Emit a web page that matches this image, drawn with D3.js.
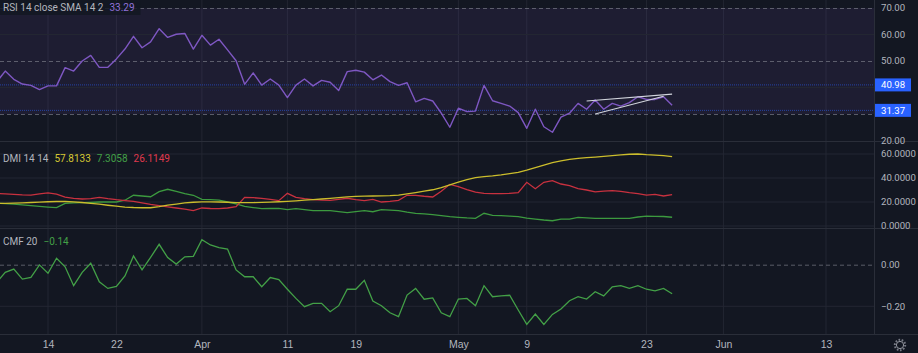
<!DOCTYPE html>
<html lang="en">
<head>
  <meta charset="UTF-8">
  <title>RSI / DMI / CMF</title>
  <script src="https://d3js.org/d3.v7.min.js"></script>
  <style>
    body { margin: 0; background: #131722; }
    svg { display: block; font-family: Roboto, "Noto Sans", sans-serif; }
    .ylab { fill: #b2b5be; font-size: 9.6px; }
    .xaxis text { fill: #b2b5be; font-size: 10.5px; }
    .legend { font-size: 10px; }
  </style>
</head>
<body>
  <div id="chart"></div>

  <script>
    // daily values, first day 2022-03-08, last day 2022-05-26
    const startDay = "2022-03-08";

    const rsi = [42.1, 46.2, 43.1, 41.3, 40.8, 39.2, 40.6, 40.6, 47.5, 46.2,
                 50.0, 52.1, 47.6, 47.6, 50.8, 54.5, 59.3, 55.0, 57.2, 62.2,
                 58.9, 60.1, 60.4, 54.5, 59.7, 56.0, 58.2, 54.2, 50.1, 41.2,
                 45.5, 40.9, 43.2, 40.9, 36.2, 40.9, 43.2, 40.6, 42.7, 42.0,
                 38.9, 46.0, 46.5, 45.8, 42.9, 44.7, 42.2, 40.8, 41.8, 34.6,
                 35.9, 34.9, 30.3, 25.0, 32.2, 30.9, 31.1, 40.8, 35.0, 34.0,
                 33.0, 30.5, 24.6, 31.8, 25.2, 23.1, 28.8, 30.3, 34.0, 31.8,
                 35.3, 31.8, 34.0, 33.0, 34.3, 36.5, 35.5, 35.5, 36.5, 33.29];

    const adx = [18.8, 18.9, 19.1, 19.3, 19.6, 19.9, 20.2, 20.4, 20.4, 20.1,
                 19.6, 18.9, 18.2, 17.3, 16.5, 15.8, 15.4, 15.2, 15.2, 16.2,
                 17.4, 18.3, 19.2, 19.8, 20.1, 20.1, 20.0, 19.8, 19.5, 19.4,
                 19.5, 19.7, 19.9, 20.2, 20.6, 21.0, 21.5, 22.0, 22.5, 23.1,
                 23.7, 24.3, 24.7, 24.9, 25.0, 25.1, 25.3, 25.8, 26.8, 27.9,
                 29.0, 30.2, 31.9, 34.2, 36.6, 38.6, 40.4, 41.2, 41.7, 42.6,
                 43.7, 44.7, 46.5, 48.6, 50.8, 52.8, 54.3, 55.5, 56.3, 56.9,
                 57.4, 58.0, 58.6, 59.2, 59.8, 60.0, 59.4, 59.0, 58.6, 57.8133];

    const plusDI = [18.9, 18.6, 18.3, 17.6, 16.9, 16.3, 15.8, 15.3, 18.9, 19.2,
                    19.4, 19.7, 20.0, 20.0, 20.0, 21.5, 25.6, 25.0, 24.4, 28.6,
                    30.6, 28.8, 27.0, 25.6, 22.2, 22.0, 21.5, 20.0, 18.5, 16.4,
                    15.4, 14.4, 14.6, 14.7, 13.6, 14.4, 13.6, 12.8, 12.8, 12.8,
                    12.0, 11.1, 12.0, 12.8, 11.9, 13.6, 13.2, 12.8, 11.5, 10.6,
                    10.1, 9.4, 8.6, 7.8, 7.2, 6.7, 6.4, 10.6, 8.9, 8.6,
                    8.2, 7.8, 6.5, 5.8, 5.0, 4.4, 5.8, 5.8, 7.2, 6.8,
                    6.4, 6.4, 6.4, 6.4, 6.4, 7.5, 8.3, 8.1, 7.9, 7.3058];

    const minusDI = [27.2, 26.8, 26.4, 25.9, 25.7, 26.8, 27.6, 26.5, 24.0, 23.0,
                     22.5, 22.8, 23.9, 22.8, 21.9, 21.2, 20.6, 19.3, 18.0, 17.0,
                     16.0, 15.0, 14.0, 12.8, 15.0, 14.6, 14.4, 15.0, 16.1, 23.9,
                     23.6, 23.1, 22.2, 21.1, 27.2, 23.9, 22.8, 21.9, 21.6, 21.4,
                     22.2, 23.1, 22.0, 21.1, 22.2, 20.0, 20.6, 21.4, 25.6, 25.6,
                     24.8, 24.2, 29.0, 34.7, 32.8, 30.3, 28.2, 27.2, 27.0, 27.0,
                     27.2, 27.8, 36.4, 31.1, 36.4, 37.8, 35.0, 33.6, 31.2, 30.0,
                     28.4, 29.0, 29.4, 28.8, 27.8, 27.0, 25.8, 26.4, 25.0, 26.1149];

    const cmf = [-0.084, -0.037, -0.021, -0.069, -0.061, -0.001, -0.041, 0.031, -0.010, -0.101,
                 -0.037, 0.007, -0.082, -0.114, -0.104, -0.054, 0.042, -0.025, 0.035, 0.098,
                 0.034, 0.003, 0.038, 0.040, 0.120, 0.095, 0.082, 0.075, -0.025, -0.058,
                 -0.058, -0.106, -0.062, -0.072, -0.118, -0.162, -0.202, -0.186, -0.186, -0.226,
                 -0.197, -0.118, -0.118, -0.075, -0.175, -0.197, -0.231, -0.250, -0.146, -0.114,
                 -0.166, -0.160, -0.231, -0.250, -0.165, -0.162, -0.197, -0.101, -0.154, -0.150,
                 -0.147, -0.218, -0.287, -0.237, -0.287, -0.239, -0.213, -0.173, -0.154, -0.165,
                 -0.130, -0.150, -0.106, -0.101, -0.114, -0.101, -0.118, -0.126, -0.114, -0.140];

    const tickDates = ["2022-03-14", "2022-03-22", "2022-04-01", "2022-04-11", "2022-04-19",
                       "2022-05-01", "2022-05-09", "2022-05-23", "2022-06-01", "2022-06-13"];
    const tickLabels = ["14", "22", "Apr", "11", "19", "May", "9", "23", "Jun", "13"];

    const rsiTicks = [70, 60, 50, 20];
    const rsiGrid = [60, 40];
    const rsiBands = [70, 50, 30];
    const rsiMarks = [40.98, 31.37];
    const dmiTicks = [60, 40, 20, 0];
    const cmfTicks = [0, -0.2];

    // hand drawn wedge on the RSI
    const wedgeUpper = [["2022-05-16", 34.9], ["2022-05-26", 37.5]];
    const wedgeLower = [["2022-05-17", 30.0], ["2022-05-25", 36.7]];

    const bg = "#131722";
    const gridColor = "#232632";
    const W = 918, H = 353, plotR = 874;

    const parse = d3.utcParse("%Y-%m-%d");
    const day0 = parse(startDay);
    const rows = rsi.map((v, i) => ({
      date: d3.utcDay.offset(day0, i),
      rsi: v, adx: adx[i], plus: plusDI[i], minus: minusDI[i], cmf: cmf[i]
    }));

    const x = d3.scaleUtc()
      .domain([parse("2022-03-14"), parse("2022-06-13")])
      .range([48, 826]);

    const panes = {
      rsi: { top: 0, bottom: 141, y: d3.scaleLinear().domain([20, 70]).range([140.5, 8]) },
      dmi: { top: 142, bottom: 228, y: d3.scaleLinear().domain([0, 60]).range([226, 154]) },
      cmf: { top: 229, bottom: 334, y: d3.scaleLinear().domain([-0.2, 0]).range([306.3, 264.7]) }
    };

    const svg = d3.select("#chart")
      .append("svg")
      .attr("width", W)
      .attr("height", H);

    svg.append("rect").attr("width", W).attr("height", H).attr("fill", bg);

    const defs = svg.append("defs");
    Object.entries(panes).forEach(([k, p]) => {
      defs.append("clipPath").attr("id", "clip-" + k)
        .append("rect")
        .attr("x", 0).attr("y", p.top)
        .attr("width", plotR).attr("height", p.bottom - p.top);
    });

    // vertical grid
    const ticks = tickDates.map(parse);
    svg.append("g").selectAll("line")
      .data(ticks)
      .enter().append("line")
      .attr("x1", d => x(d)).attr("x2", d => x(d))
      .attr("y1", 0).attr("y2", 334)
      .attr("stroke", gridColor);

    // ---- RSI pane ----
    const rp = panes.rsi;
    const gR = svg.append("g").attr("clip-path", "url(#clip-rsi)");
    gR.append("rect")
      .attr("x", 0).attr("width", plotR)
      .attr("y", rp.y(70)).attr("height", rp.y(30) - rp.y(70))
      .attr("fill", "rgba(126,87,194,0.1)");
    gR.selectAll(".hgrid").data(rsiGrid).enter().append("line")
      .attr("x1", 0).attr("x2", plotR)
      .attr("y1", d => rp.y(d)).attr("y2", d => rp.y(d))
      .attr("stroke", gridColor);
    gR.selectAll(".band").data(rsiBands).enter().append("line")
      .attr("x1", 0).attr("x2", plotR)
      .attr("y1", d => rp.y(d) + 0.5).attr("y2", d => rp.y(d) + 0.5)
      .attr("stroke", "#787b86").attr("stroke-opacity", 0.7)
      .attr("stroke-dasharray", "4,3");
    gR.selectAll(".mark").data(rsiMarks).enter().append("line")
      .attr("x1", 0).attr("x2", plotR)
      .attr("y1", d => rp.y(d)).attr("y2", d => rp.y(d))
      .attr("stroke", "#2962ff").attr("stroke-opacity", 0.55)
      .attr("stroke-dasharray", "1,1");

    const lineOf = (y, key) => d3.line().x(d => x(d.date)).y(d => y(d[key]));

    gR.append("path").datum(rows)
      .attr("d", lineOf(rp.y, "rsi"))
      .attr("fill", "none").attr("stroke", "#7e57c2").attr("stroke-width", 1.4)
      .attr("stroke-linejoin", "round");

    [wedgeUpper, wedgeLower].forEach(w => {
      gR.append("line")
        .attr("x1", x(parse(w[0][0]))).attr("y1", rp.y(w[0][1]))
        .attr("x2", x(parse(w[1][0]))).attr("y2", rp.y(w[1][1]))
        .attr("stroke", "#d1d4dc").attr("stroke-width", 1.1);
    });

    // ---- DMI pane ----
    const dp = panes.dmi;
    const gD = svg.append("g").attr("clip-path", "url(#clip-dmi)");
    gD.selectAll(".hgrid").data(dmiTicks).enter().append("line")
      .attr("x1", 0).attr("x2", plotR)
      .attr("y1", d => dp.y(d)).attr("y2", d => dp.y(d))
      .attr("stroke", gridColor);
    [["plus", "#3c9a3f"], ["minus", "#c8313f"], ["adx", "#cbbd2c"]].forEach(([k, c]) => {
      gD.append("path").datum(rows)
        .attr("d", lineOf(dp.y, k))
        .attr("fill", "none").attr("stroke", c).attr("stroke-width", 1.3);
    });

    // ---- CMF pane ----
    const cp = panes.cmf;
    const gC = svg.append("g").attr("clip-path", "url(#clip-cmf)");
    gC.append("line")
      .attr("x1", 0).attr("x2", plotR)
      .attr("y1", cp.y(-0.2)).attr("y2", cp.y(-0.2))
      .attr("stroke", gridColor);
    gC.append("line")
      .attr("x1", 0).attr("x2", plotR)
      .attr("y1", cp.y(0) + 0.5).attr("y2", cp.y(0) + 0.5)
      .attr("stroke", "#787b86").attr("stroke-opacity", 0.7)
      .attr("stroke-dasharray", "4,3");
    gC.append("path").datum(rows)
      .attr("d", lineOf(cp.y, "cmf"))
      .attr("fill", "none").attr("stroke", "#43a047").attr("stroke-width", 1.3);

    // pane separators and right axis border
    [141.5, 228.5, 334.5].forEach(yy => {
      svg.append("line").attr("x1", 0).attr("x2", W)
        .attr("y1", yy).attr("y2", yy).attr("stroke", "#2a2e39");
    });
    svg.append("line").attr("x1", plotR + 0.5).attr("x2", plotR + 0.5)
      .attr("y1", 0).attr("y2", 334).attr("stroke", "#2a2e39");

    // right scale labels
    const yLabels = (p, vals, fmt) => {
      svg.append("g").selectAll("text").data(vals).enter().append("text")
        .attr("class", "ylab")
        .attr("x", 881).attr("y", d => p.y(d))
        .attr("dy", "0.35em")
        .text(fmt);
    };
    yLabels(rp, rsiTicks, d => d.toFixed(2));
    yLabels(dp, dmiTicks, d => d.toFixed(4));
    yLabels(cp, cmfTicks, d => (d < 0 ? "\u2212" : "") + Math.abs(d).toFixed(2));

    const marks = svg.append("g").selectAll("g").data(rsiMarks).enter().append("g");
    marks.append("rect")
      .attr("x", 875).attr("width", 36)
      .attr("y", d => rp.y(d) - 6.5).attr("height", 13)
      .attr("fill", "#2962ff");
    marks.append("text")
      .attr("x", 881).attr("y", d => rp.y(d))
      .attr("dy", "0.35em")
      .attr("fill", "#ffffff").attr("font-size", "9.6px")
      .text(d => d.toFixed(2));

    // bottom time axis
    const xAxis = svg.append("g")
      .attr("class", "xaxis")
      .attr("transform", "translate(0,338)")
      .call(d3.axisBottom(x).tickValues(ticks).tickSize(0).tickFormat((d, i) => tickLabels[i]));
    xAxis.select(".domain").remove();

    // settings gear
    const gear = svg.append("g").attr("transform", "translate(900,345)");
    gear.append("circle").attr("r", 5.2).attr("fill", "none")
      .attr("stroke", "#787b86").attr("stroke-width", 2).attr("stroke-dasharray", "1.6,1.6");
    gear.append("circle").attr("r", 3.6).attr("fill", bg)
      .attr("stroke", "#9598a1").attr("stroke-width", 1);

    // legends, laid out one after another
    const last = rows[rows.length - 1];
    const legend = (yy, items, withBox) => {
      const g = svg.append("g").attr("class", "legend");
      const box = withBox ? g.append("rect").attr("x", 0).attr("y", yy - 10).attr("height", 14)
        .attr("fill", bg).attr("opacity", 0.85) : null;
      let cx = 3;
      items.forEach(([tx, col]) => {
        const t = g.append("text").attr("x", cx).attr("y", yy).attr("fill", col).text(tx);
        cx += t.node().getComputedTextLength() + 6;
      });
      if (box) box.attr("width", cx);
    };
    legend(11, [["RSI 14 close SMA 14 2", "#b2b5be"], [last.rsi.toFixed(2), "#9172d8"]], true);
    legend(162, [["DMI 14 14", "#b2b5be"], [last.adx.toFixed(4), "#d6c833"],
                 [last.plus.toFixed(4), "#43a047"], [last.minus.toFixed(4), "#e0394e"]]);
    legend(245, [["CMF 20", "#b2b5be"], ["\u2212" + Math.abs(last.cmf).toFixed(2), "#43a047"]]);
  </script>
</body>
</html>
